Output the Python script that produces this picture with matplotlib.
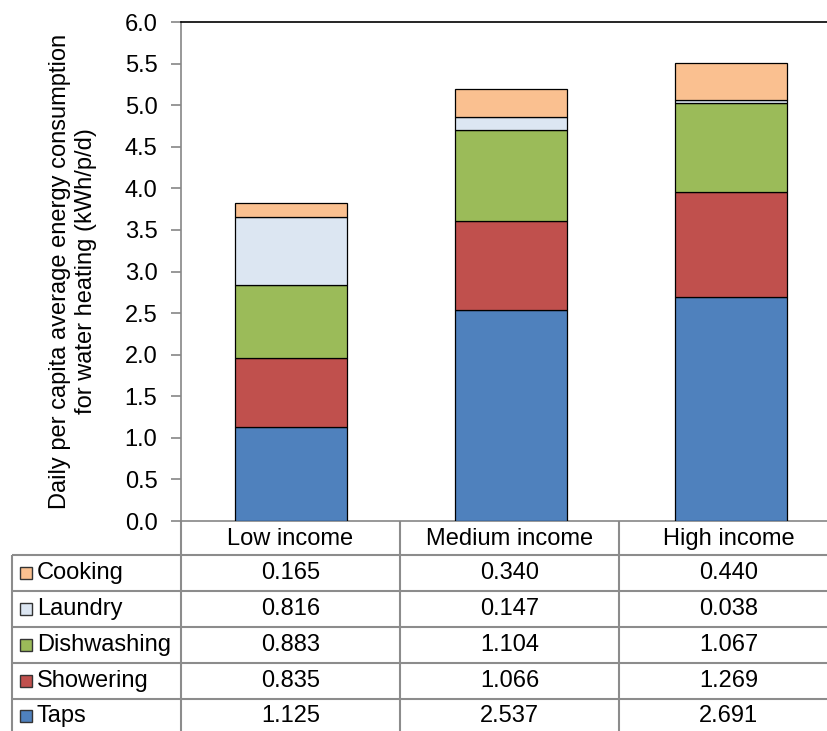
import matplotlib
matplotlib.use("Agg")
import matplotlib.pyplot as plt
from matplotlib.patches import Rectangle
import numpy as np

plt.rcParams['font.family'] = ['Liberation Sans', 'DejaVu Sans']

categories = ["Low income", "Medium income", "High income"]
series_names = ["Taps", "Showering", "Dishwashing", "Laundry", "Cooking"]
taps = [1.125, 2.537, 2.691]
showering = [0.835, 1.066, 1.269]
dishwashing = [0.883, 1.104, 1.067]
laundry = [0.816, 0.147, 0.038]
cooking = [0.165, 0.340, 0.440]
yticks = [0.0, 0.5, 1.0, 1.5, 2.0, 2.5, 3.0, 3.5, 4.0, 4.5, 5.0, 5.5, 6.0]

series = [taps, showering, dishwashing, laundry, cooking]
colors = ["#4F81BD", "#C0504D", "#9BBB59", "#DCE6F2", "#FAC090"]

FS = 17
W, H = 828, 731
fig = plt.figure(figsize=(W / 100, H / 100), dpi=100)

ax_left, ax_right = 181, 841
ax_top, ax_bot = 22, 521
ax = fig.add_axes([ax_left / W, 1 - ax_bot / H, (ax_right - ax_left) / W, (ax_bot - ax_top) / H])

x = np.arange(len(categories))
bottom = np.zeros(len(categories))
for vals, c, name in zip(series, colors, series_names):
    ax.bar(x, vals, 0.51, bottom=bottom, color=c, edgecolor="black", linewidth=0.9, label=name, zorder=3)
    bottom += np.array(vals)

ax.set_xlim(-0.5, 2.5)
ax.set_ylim(0, 6.0)
ax.set_yticks(yticks)
ax.set_yticklabels([f"{v:.1f}" for v in yticks], fontsize=FS)
ax.set_xticks([])
ax.tick_params(axis='y', direction='out', length=7, color="#868686", width=1.2, pad=10)
ax.spines['left'].set_color("#868686")
ax.spines['left'].set_linewidth(1.2)
ax.spines['bottom'].set_color("#868686")
ax.spines['bottom'].set_linewidth(1.2)
ax.spines['top'].set_color("black")
ax.spines['top'].set_linewidth(1.2)
ax.spines['right'].set_visible(False)
ax.set_ylabel("Daily per capita average energy consumption\nfor water heating (kWh/p/d)", fontsize=FS, labelpad=20, linespacing=1.2)

tab = fig.add_axes([0, 0, 1, 1], zorder=-1)
tab.set_xlim(0, W)
tab.set_ylim(H, 0)
tab.axis('off')
gc = "#8C8C8C"
lw = 1.5
col_x = [181, 400, 619, 838]
row_y = [521, 555, 591, 627, 663, 699, 735]
for yy in row_y[1:-1]:
    tab.plot([12, W], [yy, yy], color=gc, lw=lw, solid_capstyle='butt')
for xx in col_x[:-1]:
    tab.plot([xx, xx], [521, H], color=gc, lw=lw, solid_capstyle='butt')
tab.plot([12, 12], [555, H], color=gc, lw=lw, solid_capstyle='butt')

centers = [(col_x[i] + col_x[i + 1]) / 2 for i in range(3)]
for cx, cat in zip(centers, categories):
    tab.text(cx, 539, cat, ha='center', va='center', fontsize=FS)

order = list(range(len(series)))[::-1]
for r, si in enumerate(order):
    yc = (row_y[r + 1] + row_y[r + 2]) / 2
    if r == len(order) - 1:
        yc = 716
    tab.add_patch(Rectangle((20, yc - 6), 12, 12, facecolor=colors[si], edgecolor="#333333", lw=1.0))
    tab.text(37, yc, series_names[si], ha='left', va='center', fontsize=FS)
    for cx, v in zip(centers, series[si]):
        tab.text(cx, yc, f"{v:.3f}", ha='center', va='center', fontsize=FS)

fig.savefig("out.png", dpi=100)
